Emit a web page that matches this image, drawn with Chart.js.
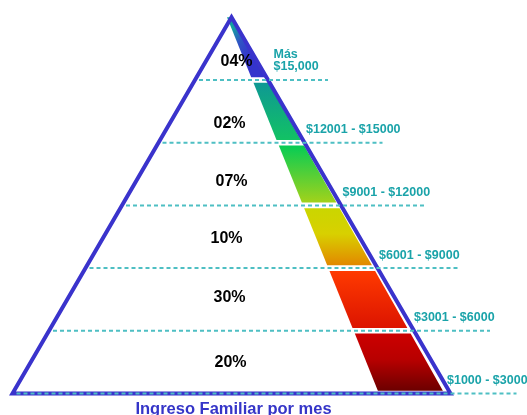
<!DOCTYPE html>
<html>
<head>
<meta charset="utf-8">
<script src="https://cdn.jsdelivr.net/npm/chart.js@4"></script>
<style>
  html, body { margin: 0; padding: 0; background: #ffffff; }
  canvas { display: block; }
</style>
</head>
<body>
<canvas id="c" width="527" height="415"></canvas>
<script>
// ---------------- DATA (top band -> bottom band) ----------------
const incomeRanges = [['Más', '$15,000'], ['$12001 - $15000'], ['$9001 - $12000'], ['$6001 - $9000'], ['$3001 - $6000'], ['$1000 - $3000']];
const shares = [4, 2, 7, 10, 30, 20];
const title = 'Ingreso Familiar por mes';

// ---------------- LAYOUT / STYLE ----------------
const W = 527, H = 415;
const LEVELS = shares.length;          // one level per band, 0 = base, 6 = apex
const UNIT = 62.7;                     // px per level
const BASE_PX = 393.5;
const APEX_X = 231.5, HALF_BASE = 219;
const STRIP_IN = [227, 379], STRIP_OUT = [231.5, 444.5]; // strip edges at apex / base
const GAP = 0.045;
const dashReach = [60, 78, 85, 80, 76, 66];
const labelNudge = [[5, 12.8], [-2, 12.6], [0, 7.5], [-5, 2.2], [-2, -1.4], [-1, 0]];
const rangeNudge = [4, 0, 0, 0, -1.5, -5];
const bandColors = [
  [['#14a0a0', 0], ['#2f55c4', 0.45], ['#3434cc', 1]],
  [['#0e9894', 0], ['#12c264', 1]],
  [['#05cc55', 0], ['#a2d21a', 1]],
  [['#cad600', 0], ['#d8d000', 0.45], ['#e28800', 1]],
  [['#ff3a00', 0], ['#dc1400', 1]],
  [['#cc0000', 0], ['#b80000', 0.45], ['#6c0000', 1]]
];
const BLUE = '#3a33cc', TEAL_DASH = '#4ebfc3', TEAL_TEXT = '#1aa3a9';

const depth = L => (LEVELS - L) / LEVELS;
const xl = L => APEX_X - HALF_BASE * depth(L);
const xr = L => APEX_X + HALF_BASE * depth(L);
const xi = L => STRIP_IN[0] + (STRIP_IN[1] - STRIP_IN[0]) * depth(L);
const xo = L => STRIP_OUT[0] + (STRIP_OUT[1] - STRIP_OUT[0]) * depth(L);

const datasets = [];

// dashed level lines (band lower boundaries)
shares.forEach((s, i) => {
  const L = LEVELS - 1 - i;
  datasets.push({
    data: [{x: xl(L) + 4, y: L}, {x: xr(L) + dashReach[i], y: L}],
    borderColor: TEAL_DASH, borderWidth: 2, borderDash: [4, 3],
    pointRadius: 0, fill: false, order: 0
  });
});

// triangle outline
datasets.push({
  data: [{x: APEX_X, y: LEVELS}, {x: xr(0), y: 0}, {x: xl(0), y: 0}, {x: APEX_X, y: LEVELS}, {x: xr(0), y: 0}],
  borderColor: BLUE, borderWidth: 4, borderJoinStyle: 'miter',
  pointRadius: 0, fill: false, order: 1
});

// coloured strip, one piece per band
shares.forEach((s, i) => {
  const top = i === 0 ? LEVELS : LEVELS - i - GAP;
  const bot = LEVELS - 1 - i + GAP;
  datasets.push({
    data: [{x: xi(top), y: top}, {x: xo(top), y: top}, {x: xo(bot), y: bot}, {x: xi(bot), y: bot}, {x: xi(top), y: top}],
    borderWidth: 0, borderColor: 'rgba(0,0,0,0)', pointRadius: 0, fill: 'shape', order: 2,
    backgroundColor: (ctx) => {
      const chart = ctx.chart;
      if (!chart.chartArea) return bandColors[i][0][0];
      const sx = chart.scales.x, sy = chart.scales.y;
      let g;
      if (i === 0) {
        g = chart.ctx.createLinearGradient(sx.getPixelForValue(229), sy.getPixelForValue(5.75), sx.getPixelForValue(252), sy.getPixelForValue(5.45));
      } else {
        g = chart.ctx.createLinearGradient(0, sy.getPixelForValue(top), 0, sy.getPixelForValue(bot));
      }
      bandColors[i].forEach(([c, p]) => g.addColorStop(p, c));
      return g;
    }
  });
});

const textPlugin = {
  id: 'texts',
  afterDraw(chart) {
    const c = chart.ctx, sx = chart.scales.x, sy = chart.scales.y;
    c.save();
    // percentages
    c.font = 'bold 16px "Liberation Sans", Arial, sans-serif';
    c.fillStyle = '#000000';
    c.textAlign = 'center';
    c.textBaseline = 'middle';
    shares.forEach((s, i) => {
      const mid = LEVELS - i - 0.5;
      const px = sx.getPixelForValue(APEX_X) + labelNudge[i][0];
      const py = sy.getPixelForValue(mid) + labelNudge[i][1];
      c.fillText(String(s).padStart(2, '0') + '%', px, py);
    });
    // income ranges
    c.font = 'bold 12.5px "Liberation Sans", Arial, sans-serif';
    c.fillStyle = TEAL_TEXT;
    c.textAlign = 'left';
    incomeRanges.forEach((lines, i) => {
      const L = LEVELS - 1 - i;
      const px = sx.getPixelForValue(xr(L)) + 1.5 + rangeNudge[i];
      const py = sy.getPixelForValue(L) - 13;
      lines.forEach((t, k) => {
        c.fillText(t, px, py - (lines.length - 1 - k) * 12.5);
      });
    });
    // title
    c.font = 'bold 16.5px "Liberation Sans", Arial, sans-serif';
    c.fillStyle = '#3535c8';
    c.textAlign = 'center';
    c.textBaseline = 'alphabetic';
    c.fillText(title, sx.getPixelForValue(APEX_X + 2), sy.getPixelForValue(0) + 20);
    c.restore();
  }
};

new Chart(document.getElementById('c'), {
  type: 'line',
  data: { datasets },
  options: {
    responsive: false,
    animation: false,
    layout: { padding: 0 },
    elements: { line: { tension: 0 } },
    plugins: { legend: { display: false }, tooltip: { enabled: false } },
    scales: {
      x: { type: 'linear', min: 0, max: W, display: false },
      y: { type: 'linear', min: -(H - BASE_PX) / UNIT, max: BASE_PX / UNIT, display: false }
    }
  },
  plugins: [textPlugin]
});
</script>
</body>
</html>
